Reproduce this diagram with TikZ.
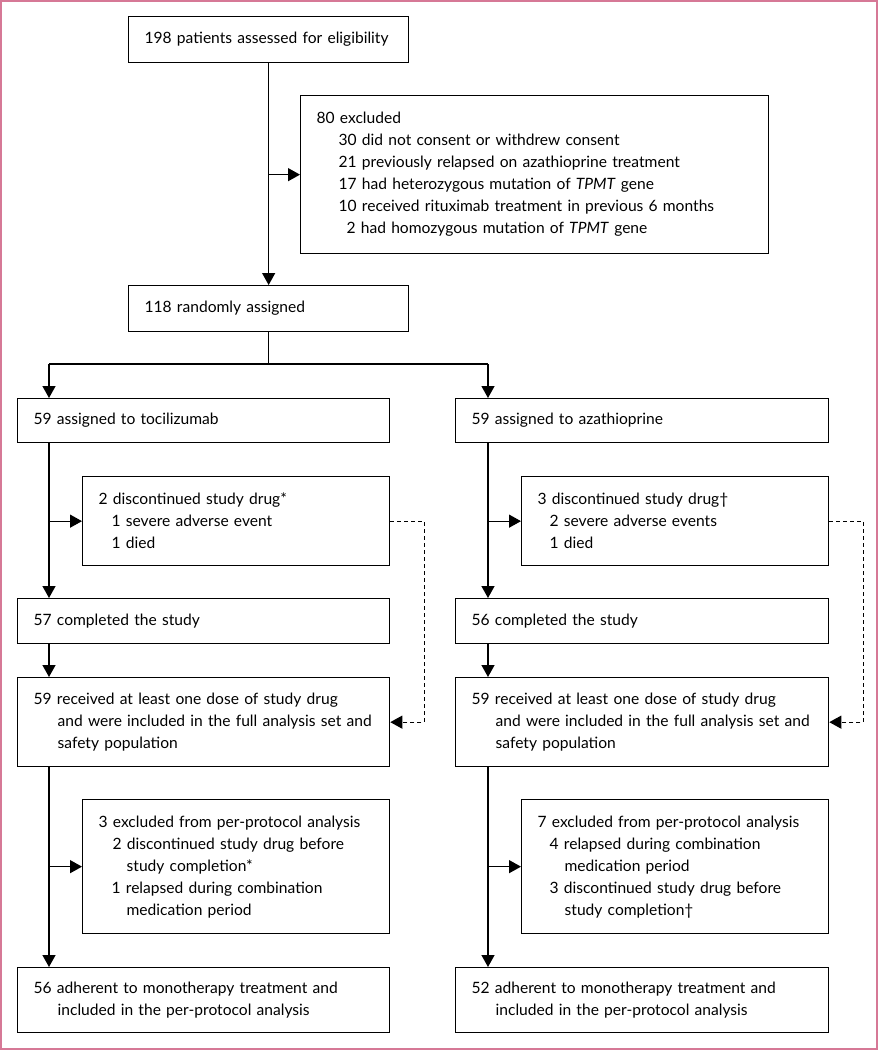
\documentclass[tikz,border=0pt]{standalone}
\usepackage{fontspec}
\setmainfont{Lato}[WordSpace=0.6]
\usepackage{xcolor}
\usepackage{tikz}
\usetikzlibrary{arrows.meta}
\usetikzlibrary{positioning}
\definecolor{framepink}{RGB}{214,120,150}
\newcommand\flowfont{\fontsize{15.6}{22}\selectfont\hyphenpenalty=10000}
\newcommand\ind[1]{\hspace*{#1pt}}
\tikzset{%
  flowbox/.style={rectangle,draw,line width=1.3pt,anchor=north west,align=left,inner xsep=16pt,inner ysep=0pt,font=\flowfont},
  flowarr/.style={line width=1.3pt,-{Triangle[length=12pt,width=13pt]}},
  flowline/.style={line width=1.3pt},
  dasharr/.style={line width=1pt,dash pattern=on 4pt off 3pt,-{Triangle[length=12pt,width=13pt]}}
}

\begin{document}
\begin{tikzpicture}[x=1pt,y=-1pt]
    \useasboundingbox (0,0) rectangle (878,1050);
    \draw[framepink,line width=1.5pt] (1,1) rectangle (877,1049);

    % screening
    \node[flowbox,text width=248pt,minimum height=46pt](assess) at (128,16)
        {198 patients assessed for eligibility};
    \node[flowbox,text width=436pt,minimum height=158pt](excl) at (300,95)
        {80 excluded\\
         \ind{22}30 did not consent or withdrew consent\\
         \ind{22}21 previously relapsed on azathioprine treatment\\
         \ind{22}17 had heterozygous mutation of \textit{TPMT} gene\\
         \ind{22}10 received rituximab treatment in previous 6 months\\
         \ind{30}2 had homozygous mutation of \textit{TPMT} gene};
    \node[flowbox,text width=248pt,minimum height=46pt](rand) at (128,285)
        {118 randomly assigned};

    % arms
    \node[flowbox,text width=340pt,minimum height=44pt](tocil) at (17,398)
        {59 assigned to tocilizumab};
    \node[flowbox,text width=341pt,minimum height=44pt](azath) at (455,398)
        {59 assigned to azathioprine};

    \node[flowbox,text width=275pt,minimum height=89pt](discl) at (82,476)
        {2 discontinued study drug*\\
         \ind{13}1 severe adverse event\\
         \ind{13}1 died};
    \node[flowbox,text width=275pt,minimum height=89pt](discr) at (521,476)
        {3 discontinued study drug†\\
         \ind{12}2 severe adverse events\\
         \ind{12}1 died};

    \node[flowbox,text width=340pt,minimum height=45pt](compl) at (17,598)
        {57 completed the study};
    \node[flowbox,text width=341pt,minimum height=45pt](compr) at (455,598)
        {56 completed the study};

    \node[flowbox,text width=340pt,minimum height=89pt](fasl) at (17,677)
        {59 received at least one dose of study drug\\
         \ind{24}and were included in the full analysis set and\\
         \ind{24}safety population};
    \node[flowbox,text width=341pt,minimum height=89pt](fasr) at (455,677)
        {59 received at least one dose of study drug\\
         \ind{24}and were included in the full analysis set and\\
         \ind{24}safety population};

    \node[flowbox,text width=275pt,minimum height=134pt](ppexl) at (82,799)
        {3 excluded from per-protocol analysis\\
         \ind{14}2 discontinued study drug before\\
         \ind{28}study completion*\\
         \ind{13}1 relapsed during combination\\
         \ind{28}medication period};
    \node[flowbox,text width=275pt,minimum height=134pt](ppexr) at (521,799)
        {7 excluded from per-protocol analysis\\
         \ind{12}4 relapsed during combination\\
         \ind{27}medication period\\
         \ind{12}3 discontinued study drug before\\
         \ind{27}study completion†};

    \node[flowbox,text width=340pt,minimum height=65pt](ppl) at (17,967)
        {56 adherent to monotherapy treatment and\\
         \ind{24}included in the per-protocol analysis};
    \node[flowbox,text width=341pt,minimum height=65pt](ppr) at (455,967)
        {52 adherent to monotherapy treatment and\\
         \ind{24}included in the per-protocol analysis};

    % connectors
    \coordinate (lcol) at (49,364);
    \coordinate (rcol) at (488,364);
    \draw[flowarr] (assess.south) -- (rand.north);
    \draw[flowarr] (assess.south |- excl.west) -- (excl.west);
    \draw[flowline] (rand.south) -- (rand.south |- lcol);
    \draw[flowline] (lcol) -- (rcol);
    \draw[flowarr] (lcol) -- (lcol |- tocil.north);
    \draw[flowarr] (rcol) -- (rcol |- azath.north);

    \draw[flowarr] (lcol |- tocil.south) -- (lcol |- compl.north);
    \draw[flowarr] (lcol |- discl.west) -- (discl.west);
    \draw[flowarr] (lcol |- compl.south) -- (lcol |- fasl.north);
    \draw[flowarr] (lcol |- fasl.south) -- (lcol |- ppl.north);
    \draw[flowarr] (lcol |- ppexl.west) -- (ppexl.west);
    \draw[dasharr] (discl.east) -- ++(34,0) |- (fasl.east);

    \draw[flowarr] (rcol |- azath.south) -- (rcol |- compr.north);
    \draw[flowarr] (rcol |- discr.west) -- (discr.west);
    \draw[flowarr] (rcol |- compr.south) -- (rcol |- fasr.north);
    \draw[flowarr] (rcol |- fasr.south) -- (rcol |- ppr.north);
    \draw[flowarr] (rcol |- ppexr.west) -- (ppexr.west);
    \draw[dasharr] (discr.east) -- ++(34,0) |- (fasr.east);
\end{tikzpicture}
\end{document}
